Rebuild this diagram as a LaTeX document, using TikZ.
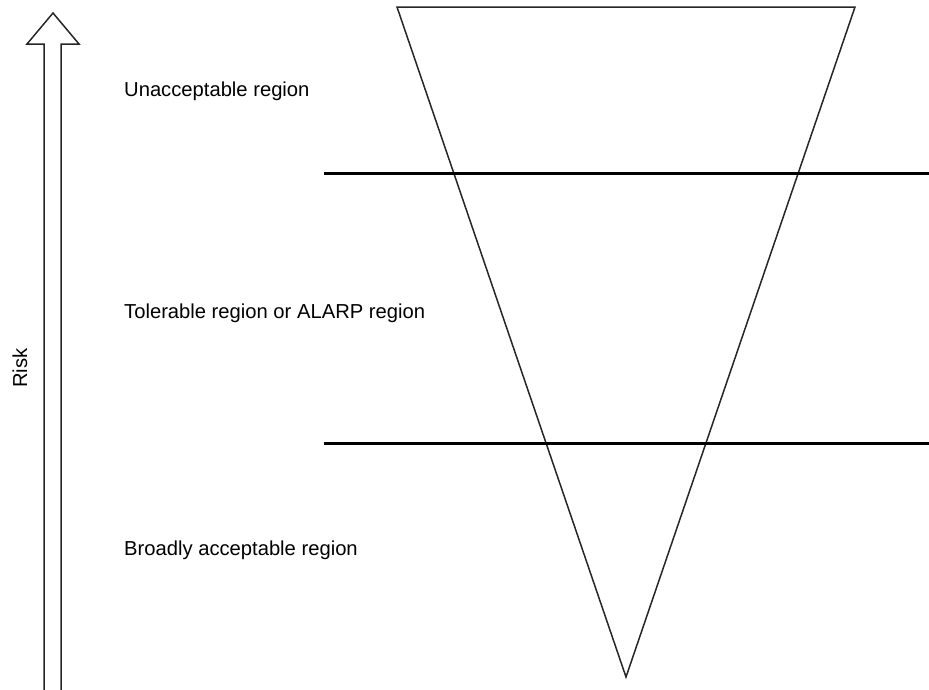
\documentclass[tikz,border=0pt]{standalone}
\usepackage{fontspec}
\setmainfont{Liberation Sans}
\begin{document}
\begin{tikzpicture}[x=1pt,y=-1pt,
  label/.style={font=\fontsize{20.2}{24}\selectfont, inner sep=0pt, anchor=base west},
  outline/.style={draw=black!85, line width=1.5pt, line join=miter},
  divider/.style={draw=black, line width=2.4pt}]
\useasboundingbox (0,0) rectangle (929,689);

% risk arrow (shaft runs off the bottom edge)
\draw[outline] (44,700) -- (44,44) -- (27,44) -- (53,13) -- (79,44) -- (61,44) -- (61,700);
\node[font=\fontsize{20.2}{24}\selectfont, rotate=90, inner sep=0pt] (risk) at (20,368) {Risk};

% inverted risk triangle
\coordinate (tl) at (397,7);
\coordinate (tr) at (855,7);
\coordinate (bt) at (626,677);
\draw[outline] (tl) -- (tr) -- (bt) -- cycle;

% region boundaries
\coordinate (u0) at (324,173.5);
\coordinate (u1) at (929,173.5);
\coordinate (l0) at (324,443.5);
\coordinate (l1) at (929,443.5);
\draw[divider] (u0) -- (u1);
\draw[divider] (l0) -- (l1);

% region labels
\node[label] (unacc) at (124,96) {Unacceptable region};
\node[label] (toler) at (124,318) {Tolerable region or ALARP region};
\node[label] (broad) at (124,555) {Broadly acceptable region};
\end{tikzpicture}
\end{document}
